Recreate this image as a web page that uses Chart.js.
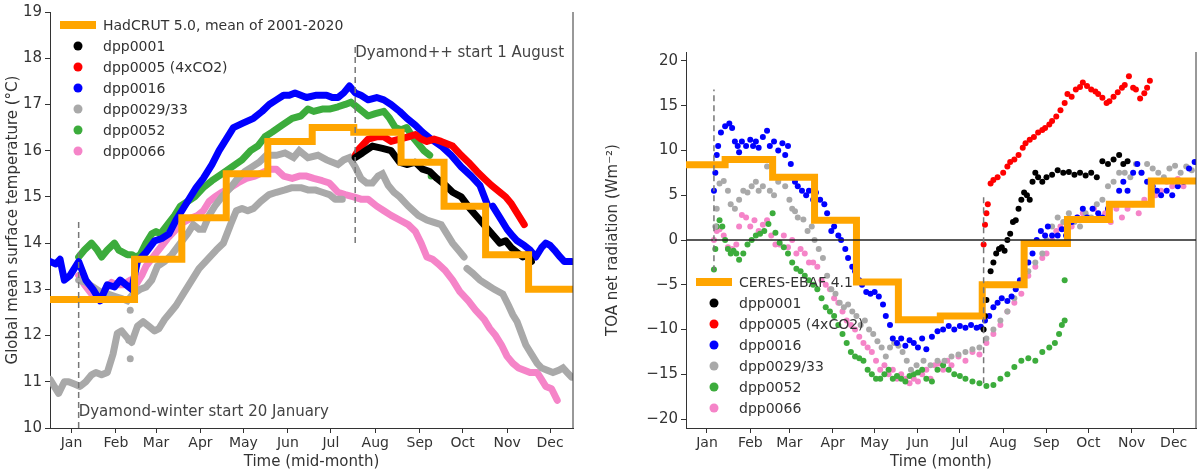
<!DOCTYPE html>
<html>
<head>
<meta charset="utf-8">
<script src="https://cdn.jsdelivr.net/npm/chart.js@4/dist/chart.umd.min.js"></script>
<style>
  body { margin: 0; background: #fff; }
  #wrap { position: relative; width: 1200px; height: 475px; }
  .panel { position: absolute; top: 0; width: 600px; height: 475px; }
</style>
</head>
<body>
<div id="wrap">
  <div class="panel" style="left:0"><canvas id="left"></canvas></div>
  <div class="panel" style="left:600px"><canvas id="right"></canvas></div>
</div>
<script>
// mid-month tick positions (day of year) and labels
var monthDays = [15, 46, 74, 105, 135, 166, 196, 227, 258, 288, 319, 349];
var monthNames = ["Jan","Feb","Mar","Apr","May","Jun","Jul","Aug","Sep","Oct","Nov","Dec"];

// ---- left panel: global mean surface temperature (°C) ----
var hadEdges = [0, 59, 92, 123, 152, 183, 212, 245, 275, 304, 334, 365];
var hadVals  = [12.78, 13.65, 14.55, 15.5, 16.2, 16.5, 16.4, 15.75, 14.8, 13.75, 13.0, 13.0];

var t0001 = [[213,15.85],[218,15.95],[225,16.1],[232,16.05],[238,16.0],[244,15.75],[249,15.7],[255,15.75],[260,15.6],[265,15.55],[270,15.4],[276,15.25],[281,15.1],[287,15.0],[293,14.75],[300,14.5],[307,14.25],[314,14.0],[318,14.05],[322,13.9],[326,13.8],[330,13.7],[333,13.75],[336,13.6]];
var t0005 = [[213,15.9],[216,16.05],[222,16.25],[228,16.3],[233,16.3],[238,16.2],[244,16.25],[250,16.3],[255,16.35],[259,16.25],[263,16.2],[268,16.25],[273,16.2],[277,16.15],[281,16.1],[287,15.9],[292,15.75],[298,15.55],[303,15.4],[308,15.25],[314,15.1],[318,15.0],[322,14.85],[326,14.65],[331,14.4]];
var t0016 = [[0,13.6],[4,13.55],[7,13.65],[10,13.2],[14,13.3],[20,13.6],[25,13.2],[30,13.0],[35,12.75],[40,13.1],[45,13.05],[49,13.2],[53,13.1],[57,13.0],[61,13.6],[67,13.8],[73,14.05],[78,14.1],[83,14.2],[88,14.5],[96,14.9],[102,15.2],[107,15.4],[113,15.7],[118,16.0],[123,16.25],[128,16.5],[135,16.6],[142,16.7],[148,16.85],[153,17.0],[158,17.1],[163,17.2],[167,17.2],[171,17.25],[175,17.2],[179,17.15],[186,17.2],[193,17.2],[197,17.15],[201,17.15],[205,17.25],[209,17.4],[213,17.25],[217,17.2],[222,17.1],[228,17.15],[233,17.1],[238,17.0],[244,16.85],[249,16.7],[255,16.55],[260,16.4],[266,16.25],[273,16.1],[280,15.9],[287,15.65],[294,15.45],[300,15.25],[305,14.85],[null,null],[309,14.8],[314,14.55],[319,14.3],[323,14.15],[326,14.05],[331,13.95],[335,13.85],[339,13.7],[343,13.9],[346,14.0],[349,13.95],[352,13.85],[356,13.7],[359,13.6],[364,13.6]];
var t0029a = [[0,11.05],[3,10.9],[6,10.75],[10,11.0],[13,11.0],[17,10.95],[21,10.9],[25,11.0],[29,11.15],[32,11.2],[36,11.15],[40,11.2],[44,11.6],[47,12.05],[50,12.1],[54,11.95],[57,11.85],[61,12.2],[65,12.3],[69,12.2],[73,12.1],[76,12.15],[80,12.35],[84,12.5],[88,12.65],[93,12.9],[99,13.2],[104,13.45],[110,13.65],[116,13.85],[121,14.0],[126,14.4],[130,14.7],[134,14.75],[138,14.7],[142,14.75],[147,14.9],[153,15.05],[158,15.1],[164,15.15],[169,15.2],[175,15.2],[180,15.15],[185,15.15],[190,15.1],[195,15.05],[199,14.95],[204,14.95]];
var t0029b = [[20,13.2],[25,13.15],[30,13.05],[35,12.95],[40,12.9],[45,12.85],[50,12.8],[54,12.75],[58,12.9],[63,13.0],[67,13.05],[71,13.2],[75,13.5],[80,13.6],[85,13.75],[91,14.0],[96,14.2],[100,14.4],[104,14.3],[107,14.3],[111,14.6],[115,14.8],[120,15.0],[126,15.2],[131,15.4],[136,15.55],[141,15.65],[146,15.75],[151,15.9],[158,15.9],[164,15.95],[170,15.85],[174,16.0],[180,15.85],[187,15.9],[193,15.8],[201,15.7],[205,15.8],[209,15.85],[213,15.65],[217,15.4],[221,15.3],[225,15.3],[229,15.45],[232,15.5],[236,15.25],[240,15.1],[244,15.0],[250,14.8],[257,14.6],[263,14.5],[268,14.45],[273,14.4],[277,14.2],[281,14.0],[285,13.85],[289,13.7],[null,null],[291,13.45],[295,13.35],[300,13.2],[305,13.1],[310,13.0],[316,12.9],[320,12.65],[323,12.45],[326,12.3],[329,12.05],[332,11.8],[336,11.6],[340,11.4],[343,11.3],[347,11.25],[351,11.2],[355,11.25],[358,11.3],[361,11.2],[364,11.1]];
var t0029dots = [[56,12.55],[56,11.5],[55,11.9]];
var t0052 = [[20,13.7],[24,13.85],[29,14.0],[33,13.85],[36,13.7],[40,13.85],[45,14.0],[48,13.85],[51,13.8],[54,13.75],[57,13.75],[60,13.7],[63,13.75],[67,14.0],[71,14.2],[74,14.25],[77,14.2],[82,14.4],[87,14.6],[91,14.8],[96,14.9],[101,15.0],[107,15.2],[113,15.35],[120,15.5],[127,15.65],[134,15.8],[140,16.0],[145,16.1],[150,16.3],[155,16.4],[162,16.55],[169,16.7],[175,16.75],[180,16.9],[184,16.85],[190,16.9],[195,16.9],[201,16.95],[206,17.0],[210,17.05],[214,16.95],[218,16.85],[222,16.75],[227,16.8],[233,16.85],[237,16.7],[241,16.5],[245,16.45],[249,16.5],[253,16.3],[257,16.15],[261,16.0],[265,15.9],[null,null],[266,15.45]];
var t0066 = [[20,13.3],[24,13.1],[29,12.9],[33,12.85],[36,12.9],[40,13.05],[43,13.15],[47,13.1],[51,13.1],[56,13.2],[60,13.1],[64,13.3],[67,13.5],[72,13.7],[77,13.9],[82,14.1],[88,14.3],[93,14.45],[99,14.55],[103,14.6],[107,14.7],[111,14.9],[115,15.0],[120,15.1],[126,15.2],[131,15.3],[137,15.4],[143,15.45],[150,15.55],[154,15.6],[158,15.6],[163,15.45],[169,15.4],[174,15.45],[179,15.45],[184,15.4],[190,15.35],[195,15.3],[198,15.2],[201,15.1],[206,15.05],[212,15.0],[217,14.95],[222,14.95],[228,14.8],[233,14.7],[238,14.6],[244,14.5],[250,14.4],[255,14.25],[259,14.0],[263,13.7],[267,13.65],[271,13.55],[276,13.4],[281,13.2],[286,12.95],[292,12.75],[297,12.55],[303,12.35],[307,12.15],[311,12.0],[315,11.8],[319,11.55],[323,11.4],[327,11.3],[331,11.25],[335,11.2],[340,11.2],[343,11.05],[346,10.9],[350,10.85],[354,10.6]];

// ---- right panel: TOA net radiation (W m-2) ----
var ceresEdges = [0, 28, 62, 92, 122, 152, 182, 212, 242, 273, 303, 333, 365];
var ceresVals  = [8.4, 9.0, 7.0, 2.2, -4.7, -8.9, -8.5, -5.0, -0.4, 2.3, 4.0, 6.6, 6.6];

var r0001 = [[213,-10],[214,-8.5],[215,-6.7],[216,-5],[218,-3.5],[220,-2.5],[222,-1.5],[224,-1],[226,-0.8],[228,-1.2],[230,0],[232,0.7],[234,2],[236,2.2],[238,3.5],[240,4.5],[242,5.3],[244,5.0],[246,4.5],[248,6.5],[250,7.5],[252,7.0],[255,6.5],[258,7.0],[262,7.3],[266,7.8],[270,7.5],[274,7.6],[278,7.3],[282,7.5],[286,7.2],[290,7.5],[294,7.0],[298,8.8],[302,8.5],[306,9.0],[310,9.5],[313,8.5],[316,8.8]];
var r0005 = [[213,-0.5],[214,1.7],[215,3],[216,4],[218,6.3],[220,6.7],[223,7.0],[227,7.5],[230,8.2],[232,8.7],[235,9.0],[238,9.5],[241,10.3],[243,10.8],[246,11.2],[249,11.5],[252,12.0],[255,12.3],[257,12.5],[260,12.9],[262,13.3],[265,13.8],[268,14.5],[271,15.3],[273,16.3],[276,16.0],[279,16.8],[282,17.1],[284,17.6],[287,17.2],[290,16.8],[293,16.6],[295,16.3],[298,15.9],[301,15.3],[303,15.5],[306,16.0],[309,16.5],[312,17.0],[314,17.3],[317,18.3],[320,17.0],[322,16.8],[325,15.8],[328,16.4],[330,17.0],[332,17.8]];
var r0016 = [[20,5.5],[21,7.5],[22,9.5],[23,10.5],[25,12],[28,12.7],[31,13],[33,12.5],[35,11],[37,10.5],[38,9.8],[40,11],[43,10.5],[46,11.2],[48,10.5],[50,11.0],[52,10.3],[55,11.5],[58,12.2],[60,10.5],[63,11.0],[66,10.0],[69,10.8],[71,9.5],[73,10.5],[75,8.5],[78,6.5],[80,6.0],[83,5.5],[86,5.0],[88,5.5],[91,4.5],[93,5.3],[96,4.5],[99,4.0],[101,3.0],[104,1.0],[106,1.5],[109,0.5],[111,0],[114,-1],[116,-2],[119,-3],[121,-3.5],[124,-4.5],[126,-5],[129,-5.8],[132,-6],[135,-5.8],[138,-6.3],[141,-7.2],[143,-8.5],[146,-9.5],[148,-11],[151,-11.5],[154,-11.0],[157,-11.8],[160,-11.2],[163,-11.5],[166,-12.0],[169,-11.0],[172,-12.2],[176,-10.8],[180,-10.2],[184,-10.0],[188,-9.6],[192,-10.0],[196,-9.6],[200,-9.8],[204,-9.5],[208,-9.8],[211,-9.7],[214,-9],[217,-8.5],[220,-7.5],[223,-7],[226,-6.5],[230,-6.8],[233,-6.3],[236,-5.5],[239,-4.5],[242,-3.5],[245,-2.5],[248,-1.5],[251,0],[254,1],[257,0.5],[259,1.5],[262,0.5],[266,0.5],[269,1.2],[272,0.5],[276,2.0],[280,2.5],[284,3.5],[287,2.5],[291,3.5],[295,3.0],[298,2.5],[302,3.5],[306,4.0],[310,5.5],[313,6.5],[316,5.5],[320,7.5],[323,8.5],[326,7.5],[330,6.5],[334,6.0],[337,5.5],[340,5.0],[344,5.5],[348,5.0],[352,6.0],[356,6.5],[360,8.0],[364,8.7]];
var r0029 = [[21,1.5],[22,3.5],[24,6.3],[27,6.6],[30,5.5],[32,4],[35,3.5],[38,4.5],[41,5.5],[44,5.3],[47,6.0],[50,6.5],[52,5.5],[55,6.0],[58,8.2],[60,5.5],[63,5.0],[66,6.5],[68,7.0],[71,6.0],[74,4.5],[76,3.5],[78,3.2],[80,2.5],[84,2.3],[87,1.0],[90,1.5],[92,0.0],[95,-1],[98,-2.0],[101,-4],[104,-5.5],[107,-6],[110,-7],[113,-7.5],[116,-7.2],[119,-8],[122,-8.5],[125,-9.5],[128,-9],[131,-10],[134,-10.5],[137,-11.3],[140,-12],[143,-13],[146,-12],[149,-11.5],[152,-11.8],[155,-12.5],[158,-13.5],[161,-14.5],[165,-14],[170,-13.5],[175,-14],[180,-13.5],[185,-13.5],[190,-13.0],[195,-12.8],[200,-12.5],[205,-12.2],[210,-12],[215,-11],[220,-10],[225,-9],[230,-8],[235,-6.5],[240,-5],[245,-3.5],[250,-2.5],[255,-1.5],[258,0],[262,1.5],[266,2.5],[270,2.0],[274,3.0],[278,2.0],[282,1.5],[286,3.0],[290,2.5],[294,4.0],[298,4.5],[302,6.0],[306,6.5],[310,7.5],[314,7.5],[318,7.0],[322,8.5],[326,7.5],[330,8.5],[334,8.0],[338,7.5],[342,7.0],[346,8.0],[350,8.3],[354,7.5],[358,8.2],[362,7.8]];
var r0052 = [[20,-3.3],[21,-1],[22,1.5],[24,2.2],[26,1.5],[28,0],[30,-1],[32,-1.5],[34,-1.2],[36,-1.5],[38,-2.2],[41,-1.5],[44,-0.5],[47,0],[50,0.5],[53,0.7],[56,1.0],[59,1.8],[62,3],[64,0.8],[67,-0.3],[70,-0.8],[73,-1.5],[76,-2.5],[79,-3.2],[82,-3.5],[85,-4],[88,-4.5],[91,-5],[94,-5.5],[97,-6.5],[100,-7.5],[103,-8],[106,-8.5],[109,-9.5],[112,-10.5],[115,-11.5],[118,-12.5],[121,-13],[124,-13.2],[127,-13.5],[130,-14.5],[133,-15],[136,-15.5],[139,-15.5],[142,-15],[145,-14.5],[148,-15.5],[151,-15.2],[154,-15.5],[157,-15.8],[160,-15.2],[163,-15.0],[166,-14.8],[169,-14.5],[172,-15.5],[176,-15.8],[180,-14.5],[184,-14],[188,-14.5],[192,-15],[196,-15.2],[200,-15.5],[205,-15.8],[210,-16],[215,-16.3],[220,-16.2],[225,-15.5],[230,-15],[235,-14.2],[240,-13.5],[245,-13.2],[250,-13.5],[255,-12.5],[260,-12],[264,-11.5],[267,-10.5],[269,-9.5],[271,-9],[271,-4.5]];
var r0066 = [[20,0],[22,1],[24,1.2],[27,0.5],[30,-0.8],[33,-1],[36,-0.5],[38,1.5],[40,2.8],[43,2.5],[46,1.5],[49,2.2],[52,1],[55,1.7],[58,2.2],[61,0.5],[64,-0.5],[67,-0.5],[70,0.5],[73,-0.8],[76,0],[79,-1.5],[82,-1],[85,-1.5],[88,-2.5],[91,-2.5],[94,-3],[97,-4.5],[100,-5],[103,-5.5],[106,-6.5],[109,-7],[112,-8],[115,-9],[118,-9.5],[121,-10],[124,-10.8],[127,-11.5],[130,-12],[133,-12.5],[136,-13.5],[139,-14.5],[142,-14],[145,-15],[148,-14.5],[151,-15.5],[154,-15],[157,-15.5],[160,-16],[163,-15.5],[166,-15.8],[169,-15],[172,-14.5],[175,-15.5],[178,-14],[181,-13.8],[184,-14.5],[187,-13.5],[190,-14.0],[195,-13],[200,-13.5],[205,-12.5],[210,-12.8],[215,-11.5],[220,-10.5],[225,-9.5],[230,-8],[235,-7],[240,-6],[245,-4],[250,-3],[255,-2],[258,-1.5],[262,0],[265,1],[268,1.5],[272,2],[276,1.5],[280,2.5],[284,3],[288,2.5],[292,3.5],[296,2.5],[300,3],[304,2.0],[308,3.5],[312,2.5],[316,3.5],[320,4],[324,3],[328,4.5],[332,4],[336,5],[340,5.5],[344,6.5],[348,6],[352,6.8],[356,6.0]];

var C = { black:'#000000', red:'#ff0000', blue:'#0000ff', gray:'#a9a9a9', green:'#3cac3c', pink:'#f584c8', orange:'#ffa500' };
var FONT = '"DejaVu Sans", sans-serif';

function pts(arr) {
  return arr.map(function(p) { return p[0] === null ? {x:null, y:null} : {x:p[0], y:p[1]}; });
}
function steps(edges, vals) {
  return edges.map(function(e, i) { return {x:e, y:vals[i]}; });
}
function lineSet(label, arr, color) {
  return { label:label, data:pts(arr), borderColor:color, backgroundColor:color, showLine:true,
           borderWidth:7, pointRadius:0, borderCapStyle:'round', borderJoinStyle:'round', spanGaps:false, legendDot:true };
}
function dotSet(label, arr, color) {
  return { label:label, data:pts(arr), borderColor:color, backgroundColor:color, showLine:false,
           pointRadius:3, pointBorderWidth:0, legendDot:true };
}

// draws legend, frame, dashed markers and texts
var extras = {
  id: 'extras',
  afterDatasetsDraw: function(chart, args, o) {
    var ctx = chart.ctx, a = chart.chartArea, xs = chart.scales.x, ys = chart.scales.y;
    ctx.save();
    ctx.strokeStyle = '#333'; ctx.lineWidth = 1;
    ctx.beginPath(); ctx.moveTo(a.right, a.top); ctx.lineTo(a.right, a.bottom); ctx.stroke();
    if (o.zero) {
      ctx.strokeStyle = '#222'; ctx.lineWidth = 1.5;
      ctx.beginPath(); ctx.moveTo(a.left, ys.getPixelForValue(0)); ctx.lineTo(a.right, ys.getPixelForValue(0)); ctx.stroke();
    }
    ctx.setLineDash([6, 4]); ctx.strokeStyle = '#777'; ctx.lineWidth = 1.5;
    o.marks.forEach(function(m) {
      var x = xs.getPixelForValue(m[0]);
      ctx.beginPath(); ctx.moveTo(x, ys.getPixelForValue(m[1])); ctx.lineTo(x, ys.getPixelForValue(m[2])); ctx.stroke();
    });
    ctx.setLineDash([]);
    ctx.font = '15px ' + FONT; ctx.fillStyle = '#444'; ctx.textBaseline = 'middle'; ctx.textAlign = 'left';
    o.notes.forEach(function(n) { ctx.fillText(n[2], xs.getPixelForValue(n[0]), ys.getPixelForValue(n[1])); });
    // legend
    var L = o.legend, y = L.y;
    ctx.font = '14px ' + FONT; ctx.fillStyle = '#333';
    chart.data.datasets.forEach(function(d) {
      if (!d.label) return;
      if (d.legendDot) {
        ctx.beginPath(); ctx.fillStyle = d.borderColor; ctx.arc(L.x + 18, y, 4.5, 0, Math.PI * 2); ctx.fill();
      } else {
        ctx.fillStyle = d.borderColor; ctx.fillRect(L.x, y - 4, 36, 8);
      }
      ctx.fillStyle = '#333'; ctx.fillText(d.label, L.x + 43, y + 1);
      y += L.gap;
    });
    ctx.restore();
  }
};

function makeChart(id, datasets, yOpt, xTitle, yTitle, pad, yWidth, ex) {
  return new Chart(document.getElementById(id), {
    type: 'scatter',
    data: { datasets: datasets },
    plugins: [extras],
    options: {
      responsive: false, animation: false,
      layout: { padding: pad },
      plugins: { legend: { display:false }, tooltip: { enabled:false }, extras: ex },
      scales: {
        x: { type:'linear', min:0, max:365,
             afterBuildTicks: function(s) { s.ticks = monthDays.map(function(v) { return {value:v}; }); },
             afterFit: function(s) { s.height = 47; },
             ticks: { callback: function(v) { return monthNames[monthDays.indexOf(v)]; }, color:'#333', font:{family:FONT, size:14}, padding:2, maxRotation:0, autoSkip:false },
             grid: { drawOnChartArea:false, tickLength:5, color:'#333' },
             border: { color:'#333' },
             title: { display:true, text:xTitle, color:'#333', font:{family:FONT, size:15}, padding:{top:0} } },
        y: Object.assign({
             afterFit: function(s) { s.width = yWidth; },
             grid: { drawOnChartArea:false, tickLength:5, color:'#333' },
             border: { color:'#333' },
             title: { display:true, text:yTitle, color:'#333', font:{family:FONT, size:15}, padding:{bottom:2} } }, yOpt)
      }
    }
  });
}

var lc = document.getElementById('left'); lc.width = 600; lc.height = 475;
var rc = document.getElementById('right'); rc.width = 600; rc.height = 475;

makeChart('left', [
  { label:'HadCRUT 5.0, mean of 2001-2020', data:steps(hadEdges, hadVals), borderColor:C.orange, backgroundColor:C.orange,
    showLine:true, stepped:'before', borderWidth:7, pointRadius:0 },
  lineSet('dpp0001', t0001, C.black),
  lineSet('dpp0005 (4xCO2)', t0005, C.red),
  lineSet('dpp0016', t0016, C.blue),
  lineSet('dpp0029/33', t0029a, C.gray),
  { label:'', data:pts(t0029b), borderColor:C.gray, showLine:true, borderWidth:7, pointRadius:0, borderCapStyle:'round', spanGaps:false },
  { label:'', data:pts(t0029dots), backgroundColor:C.gray, pointRadius:3.5, pointBorderWidth:0 },
  lineSet('dpp0052', t0052, C.green),
  lineSet('dpp0066', t0066, C.pink)
], { min:10, max:19, ticks:{ stepSize:1, color:'#333', font:{family:FONT, size:15}, padding:3 } },
   'Time (mid-month)', 'Global mean surface temperature (°C)', {top:6, right:27, left:0, bottom:0}, 50,
   { legend:{x:60, y:25, gap:21}, zero:false,
     marks:[[20, 10, 14.5], [213, 14.0, 18.3]],
     notes:[[20, 10.35, 'Dyamond-winter start 20 January'], [213, 18.1, 'Dyamond++ start 1 August']] });

makeChart('right', [
  { label:'CERES-EBAF 4.1', data:steps(ceresEdges, ceresVals), borderColor:C.orange, backgroundColor:C.orange,
    showLine:true, stepped:'before', borderWidth:7, pointRadius:0 },
  dotSet('dpp0001', r0001, C.black),
  dotSet('dpp0005 (4xCO2)', r0005, C.red),
  dotSet('dpp0016', r0016, C.blue),
  dotSet('dpp0029/33', r0029, C.gray),
  dotSet('dpp0052', r0052, C.green),
  dotSet('dpp0066', r0066, C.pink)
], { min:-21, max:21, afterBuildTicks:function(s){ s.ticks=[-20,-15,-10,-5,0,5,10,15,20].map(function(v){return {value:v};}); },
     ticks:{ color:'#333', font:{family:FONT, size:15}, padding:3, callback:function(v){ return v < 0 ? '\u2212' + Math.abs(v) : String(v); } } },
   'Time (month)', 'TOA net radiation (Wm\u207B\u00B2)', {top:52, right:3, left:0, bottom:0}, 86,
   { legend:{x:96, y:282, gap:21}, zero:true,
     marks:[[20, -3.5, 16.8], [213, -16, 4.8]],
     notes:[] });
</script>
</body>
</html>
